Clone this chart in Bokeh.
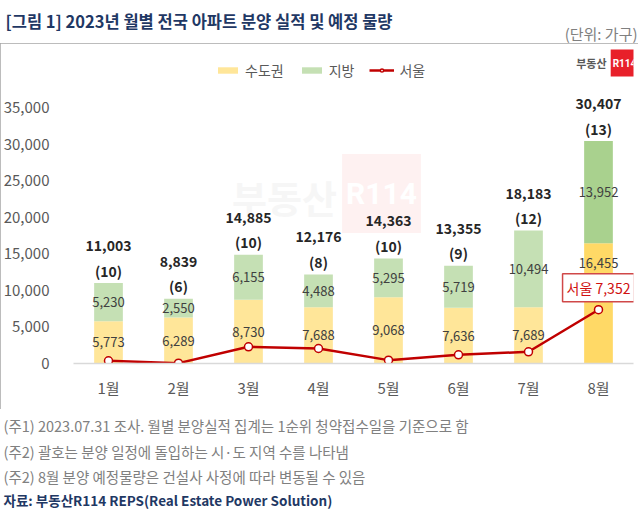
from bokeh.plotting import figure
from bokeh.layouts import column
from bokeh.models import (ColumnDataSource, Label, Legend, LegendItem,
                          FixedTicker, NumeralTickFormatter, Range1d, FactorRange)
from bokeh.transform import stack
from bokeh.core.properties import value
from bokeh.embed import file_html
from bokeh.resources import INLINE

# ---------------- data ----------------
months = ["1월", "2월", "3월", "4월", "5월", "6월", "7월", "8월"]
capital = [5773, 6289, 8730, 7688, 9068, 7636, 7689, 16455]      # 수도권
region = [5230, 2550, 6155, 4488, 5295, 5719, 10494, 13952]      # 지방
totals = [11003, 8839, 14885, 12176, 14363, 13355, 18183, 30407]
counts = [10, 6, 10, 8, 10, 9, 12, 13]
seoul = [370, 50, 2280, 2050, 460, 1190, 1600, 7352]             # 서울
forecast = [False, False, False, False, False, False, False, True]
y_ticks = [0, 5000, 10000, 15000, 20000, 25000, 30000, 35000]

title_text = "[그림 1] 2023년 월별 전국 아파트 분양 실적 및 예정 물량"
unit_text = "(단위: 가구)"
notes = [
    "(주1) 2023.07.31 조사. 월별 분양실적 집계는 1순위 청약접수일을 기준으로 함",
    "(주2) 괄호는 분양 일정에 돌입하는 시·도 지역 수를 나타냄",
    "(주2) 8월 분양 예정물량은 건설사 사정에 따라 변동될 수 있음",
]
source_text = "자료: 부동산R114 REPS(Real Estate Power Solution)"

# ---------------- styling ----------------
FONT = "Noto Sans CJK KR"
W = 638
H_TOP, H_CHART, H_BOT = 43, 366, 101
FL, FR, FT, FBB = 70, 5, 5, 46
FRAME_H = H_CHART - FT - FBB
Y_END = FRAME_H * 35000 / 256.0

YEL, YEL8 = "#FFE699", "#FFD966"
GRN, GRN8 = "#C5E0B4", "#A9D18E"
RED = "#C00000"
NAVY = "#1F3864"


def sx(px):          # page x -> frame-relative screen x
    return px - FL


def sy(py):          # page y -> frame-relative screen y (from frame bottom)
    return (H_TOP + FT + FRAME_H) - py


def text_panel(h):
    f = figure(width=W, height=h, x_range=Range1d(0, W), y_range=Range1d(h, 0),
               x_axis_type=None, y_axis_type=None, output_backend="svg",
               toolbar_location=None, min_border=0)
    f.outline_line_color = None
    f.xgrid.visible = False
    f.ygrid.visible = False
    if "frame_align" in f.properties():
        f.frame_align = False
    return f


# ---------------- top panel ----------------
p_top = text_panel(H_TOP)
p_top.add_layout(Label(x=5, y=20, text=title_text, text_font=FONT, text_font_size="16.5px",
                       text_font_style="bold", text_color=NAVY, text_align="left",
                       text_baseline="middle"))
p_top.add_layout(Label(x=637, y=33, text=unit_text, text_font=FONT, text_font_size="15px",
                       text_color="#808080", text_align="right", text_baseline="middle"))

# ---------------- chart ----------------
cap_y = [c if f else c / 2 for c, f in zip(capital, forecast)]
cap_off = [20 if f else 0 for f in forecast]
src = ColumnDataSource(dict(
    month=months,
    capital=capital,
    region=region,
    seoul=seoul,
    total=totals,
    c1=[YEL8 if f else YEL for f in forecast],
    c2=[GRN8 if f else GRN for f in forecast],
    cap_y=cap_y,
    cap_off=cap_off,
    reg_mid=[c + r / 2 for c, r in zip(capital, region)],
    cap_lbl=[f"{c:,}" for c in capital],
    reg_lbl=[f"{r:,}" for r in region],
    tot_lbl=[f"{t:,}" for t in totals],
    cnt_lbl=[f"({n})" for n in counts],
))
callout_src = ColumnDataSource(dict(month=[months[-1]], seoul=[seoul[-1]],
                                    lbl=[f"서울 {seoul[-1]:,}"]))

p = figure(width=W, height=H_CHART, x_range=FactorRange(*months), y_range=Range1d(0, Y_END),
           output_backend="svg", toolbar_location=None,
           min_border_left=FL, min_border_right=FR, min_border_top=FT, min_border_bottom=FBB,
           styles={"outline": "2px solid #A6A6A6", "outline-offset": "-2px"})
if "frame_align" in p.properties():
    p.frame_align = False
p.outline_line_color = None
p.background_fill_color = "white"
p.border_fill_color = "white"
p.xgrid.visible = False
p.ygrid.visible = False
p.x_range.range_padding = 0

# watermark
p.add_layout(Label(x=sx(281), y=sy(196), x_units="screen", y_units="screen", text="부동산",
                   text_font=FONT, text_font_size="38px", text_font_style="bold",
                   text_color="#F6F6F6", text_align="center", text_baseline="middle",
                   level="underlay"))
p.add_layout(Label(x=sx(378), y=sy(193), x_units="screen", y_units="screen", text="R114",
                   text_font="Roboto", text_font_size="30px", text_font_style="bold",
                   text_color="white", text_align="center", text_baseline="middle",
                   background_fill_color="#FEF1F1", padding=(4, 22),
                   level="underlay"))

# bars
r1 = p.vbar(x="month", bottom=stack(), top=stack("capital"), width=0.41, source=src,
            fill_color="c1", line_color=None)
r2 = p.vbar(x="month", bottom=stack("capital"), top=stack("capital", "region"), width=0.41,
            source=src, fill_color="c2", line_color=None)

# in-bar labels
p.text(x="month", y="cap_y", text="cap_lbl", source=src, y_offset="cap_off",
       text_font=value(FONT), text_font_size="13px", text_color="#404040",
       text_align="center", text_baseline="middle")
p.text(x="month", y="reg_mid", text="reg_lbl", source=src, text_font=value(FONT),
       text_font_size="13px", text_color="#404040", text_align="center", text_baseline="middle")
# totals and counts
p.text(x="month", y="total", text="tot_lbl", source=src, y_offset=-37.5, text_font=value(FONT),
       text_font_size="14px", text_font_style="bold", text_color="#262626",
       text_align="center", text_baseline="middle")
p.text(x="month", y="total", text="cnt_lbl", source=src, y_offset=-12.5, text_font=value(FONT),
       text_font_size="14px", text_font_style="bold", text_color="#262626",
       text_align="center", text_baseline="middle")

# Seoul line
rl = p.line(x="month", y="seoul", source=src, line_color=RED, line_width=2.5)
rs = p.scatter(x="month", y="seoul", source=src, size=8, fill_color="white",
               line_color=RED, line_width=1.5)

# callout
p.text(x="month", y="seoul", text="lbl", source=callout_src, y_offset=-22,
       text_font=value(FONT), text_font_size="14px", text_color="#D01010",
       text_align="center", text_baseline="middle",
       border_line_color="#D04848", border_line_width=1.5,
       background_fill_color="white", padding=(4, 4))

# legend
legend = Legend(items=[LegendItem(label="수도권", renderers=[r1]),
                       LegendItem(label="지방", renderers=[r2]),
                       LegendItem(label="서울", renderers=[rl, rs])],
                location=(sx(212), sy(80)), orientation="horizontal",
                label_text_font=FONT, label_text_font_size="14px", label_text_color="#595959",
                glyph_width=25, glyph_height=8, label_height=20, label_standoff=5, spacing=15,
                padding=0, margin=0, border_line_color=None, background_fill_alpha=0)
p.add_layout(legend)

# logo
p.add_layout(Label(x=sx(603), y=sy(62), x_units="screen", y_units="screen", text="부동산",
                   text_font=FONT, text_font_size="11px", text_font_style="bold",
                   text_color="#595959", text_align="right", text_baseline="middle"))
p.add_layout(Label(x=sx(621), y=sy(62.5), x_units="screen", y_units="screen", text="R114",
                   text_font="Roboto", text_font_size="10px", text_font_style="bold",
                   text_color="white", text_align="center", text_baseline="middle",
                   background_fill_color="#E8202A", padding=(2, 8)))

# axes
p.yaxis.ticker = FixedTicker(ticks=y_ticks)
p.yaxis.formatter = NumeralTickFormatter(format="0,0")
p.yaxis.axis_line_color = None
p.yaxis.major_tick_line_color = None
p.yaxis.minor_tick_line_color = None
p.yaxis.major_label_standoff = 18
p.yaxis.major_label_text_font = FONT
p.yaxis.major_label_text_font_size = "15px"
p.yaxis.major_label_text_color = "#595959"

p.xaxis.axis_line_color = "#D9D9D9"
p.xaxis.axis_line_width = 1.5
p.xaxis.major_tick_line_color = None
p.xaxis.minor_tick_line_color = None
p.xaxis.major_label_standoff = 7
p.xaxis.major_label_text_font = FONT
p.xaxis.major_label_text_font_size = "15px"
p.xaxis.major_label_text_color = "#595959"

# ---------------- bottom panel ----------------
p_bot = text_panel(H_BOT)
for i, t in enumerate(notes):
    p_bot.add_layout(Label(x=3, y=16 + 25.5 * i, text=t, text_font=FONT, text_font_size="14.5px",
                           text_color="#808080", text_align="left", text_baseline="middle"))
p_bot.add_layout(Label(x=3, y=90, text=source_text, text_font=FONT, text_font_size="13.5px",
                       text_font_style="bold", text_color=NAVY, text_align="left",
                       text_baseline="middle"))

layout = column(p_top, p, p_bot, spacing=0)
open("out.html", "w").write(file_html(layout, INLINE))
